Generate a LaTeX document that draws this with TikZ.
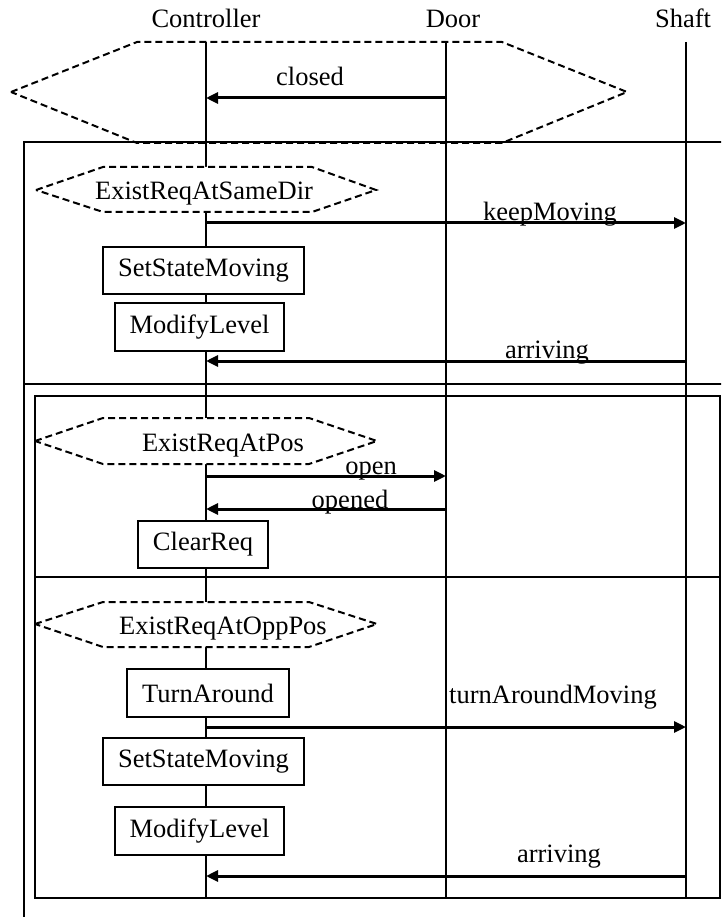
\documentclass[tikz,border=0pt]{standalone}
\usepackage{fontspec}
\setmainfont{Liberation Serif}
\usetikzlibrary{arrows.meta}

\tikzset{
  x=1pt, y=-1pt,
  lifeline/.style={line width=1.2pt},
  frameline/.style={line width=1.3pt},
  guard/.style={draw, line width=2pt, dash pattern=on 7pt off 4pt, line join=miter},
  guardfill/.style={guard, fill=white},
  actbox/.style={draw, line width=1.4pt, fill=white, inner sep=0pt},
  msg/.style={line width=3pt, -{Triangle[length=12pt,width=11pt]}},
  lbl/.style={inner sep=0pt, anchor=base},
}

\begin{document}
\begin{tikzpicture}[font=\fontsize{26.5}{31}\selectfont]
\clip (0,0) rectangle (721,917);
\fill[white] (0,0) rectangle (721,917);

% participants
\node[lbl] (tctrl)  at (206,28) {Controller};
\node[lbl] (tdoor)  at (453,28) {Door};
\node[lbl] (tshaft) at (683,28) {Shaft};

% lifelines
\coordinate (ctop) at (206,42);   \coordinate (cbot) at (206,898);
\coordinate (dtop) at (446,42);   \coordinate (dbot) at (446,898);
\coordinate (stop) at (686,42);   \coordinate (sbot) at (686,898);
\draw[lifeline] (ctop) -- (cbot);
\draw[lifeline] (dtop) -- (dbot);
\draw[lifeline] (stop) -- (sbot);

% outer loop frame
\draw[frameline] (24,940) -- (24,142) -- (740,142);
\draw[frameline] (24,384) -- (740,384);
% inner alternative frame
\draw[frameline] (35,396) rectangle (720,898);
\draw[frameline] (35,577) -- (720,577);

% initial guard around the closing door
\draw[guard] (11,92) -- (137,42) -- (502,42) -- (627,92) -- (502,143) -- (137,143) -- cycle;
\coordinate (c0) at (206,98); \coordinate (d0) at (446,98);
\draw[msg] (d0) -- (c0);
\node[lbl] (lclosed) at (310,86) {closed};

% ---- loop body: request in the same direction ----
\draw[guardfill] (36,190) -- (103,167) -- (312,167) -- (376,190) -- (312,212) -- (103,212) -- cycle;
\node[lbl] (g1) at (204,200) {ExistReqAtSameDir};

\coordinate (c1) at (206,223); \coordinate (s1) at (686,223);
\draw[msg] (c1) -- (s1);
\node[lbl] (lkeep) at (550,221) {keepMoving};

\node[actbox, minimum width=201pt, minimum height=47pt] (ssm1) at (203.5,270.5) {SetStateMoving};
\node[actbox, minimum width=169pt, minimum height=48pt] (ml1) at (199.5,327) {ModifyLevel};

\coordinate (c2) at (206,361); \coordinate (s2) at (686,361);
\draw[msg] (s2) -- (c2);
\node[lbl] (larr1) at (547,358) {arriving};

% ---- request at the current position ----
\draw[guardfill] (35,441) -- (103,418) -- (309,418) -- (377,441) -- (309,464) -- (103,464) -- cycle;
\node[lbl] (g2) at (223,451) {ExistReqAtPos};

\coordinate (c3) at (206,476); \coordinate (d3) at (446,476);
\draw[msg] (c3) -- (d3);
\node[lbl] (lopen) at (371,474) {open};

\coordinate (c4) at (206,509); \coordinate (d4) at (446,509);
\draw[msg] (d4) -- (c4);
\node[lbl] (lopened) at (350,508) {opened};

\node[actbox, minimum width=130pt, minimum height=47pt] (clr) at (203,544.5) {ClearReq};

% ---- request at the opposite position ----
\draw[guardfill] (35,624) -- (103,602) -- (309,602) -- (377,624) -- (309,647) -- (103,647) -- cycle;
\node[lbl] (g3) at (223,634) {ExistReqAtOppPos};

\node[actbox, minimum width=162pt, minimum height=48pt] (ta) at (208,693) {TurnAround};

\coordinate (c5) at (206,727); \coordinate (s5) at (686,727);
\draw[msg] (c5) -- (s5);
\node[lbl] (lturn) at (553,703) {turnAroundMoving};

\node[actbox, minimum width=201pt, minimum height=47pt] (ssm2) at (203.5,761.5) {SetStateMoving};
\node[actbox, minimum width=169pt, minimum height=48pt] (ml2) at (199.5,831) {ModifyLevel};

\coordinate (c6) at (206,876); \coordinate (s6) at (686,876);
\draw[msg] (s6) -- (c6);
\node[lbl] (larr2) at (559,862) {arriving};
\end{tikzpicture}
\end{document}
